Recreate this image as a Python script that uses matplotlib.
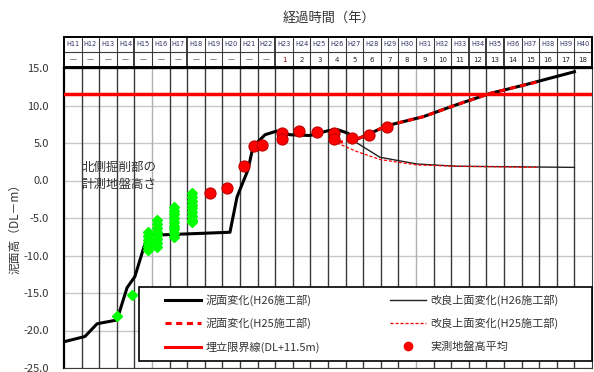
import numpy as np
import matplotlib.pyplot as plt
from matplotlib.lines import Line2D
from matplotlib.patches import Rectangle

plt.rcParams['font.family'] = ['Noto Sans CJK JP', 'DejaVu Sans']

# header rows: fiscal year and years elapsed since H23
years = [f'H{n}' for n in range(11, 41)]
elapsed = ['—'] * 12 + [str(i) for i in range(1, 19)]

# 泥面変化 (H26施工部)
mud_h26_x = [0, 1.19, 1.88, 3.01, 3.58, 4.03, 4.60, 5.0, 9.43, 9.60, 9.83, 10.45,
             10.74, 11.42, 12.10, 12.84, 13.98, 14.94, 15.51, 16.14, 16.53,
             17.33, 18.33, 20.4, 22.3, 24.2, 26.1, 29.0]
mud_h26_y = [-21.5, -20.8, -19.1, -18.6, -14.3, -12.8, -8.4, -7.3, -6.9, -4.9, -2.2, 1.4,
             4.5, 6.1, 6.6, 6.1, 6.0, 6.6, 6.8, 6.3, 5.4,
             6.2, 7.3, 8.5, 10.1, 11.6, 12.7, 14.5]

# 泥面変化 (H25施工部)
mud_h25_x = [15.5, 16.0, 16.53, 17.33, 18.33, 20.4, 22.3, 24.2, 26.1, 27.0]
mud_h25_y = [5.1, 5.2, 5.4, 6.2, 7.3, 8.5, 10.1, 11.6, 12.7, 13.2]

# 改良上面変化
imp_h26_x = [16.14, 16.65, 17.95, 20.06, 22.33, 29.0]
imp_h26_y = [6.3, 5.0, 3.1, 2.2, 1.9, 1.75]
imp_h25_x = [15.51, 16.65, 17.95, 20.06, 22.33, 26.9]
imp_h25_y = [5.0, 3.85, 2.8, 2.07, 1.9, 1.76]

fill_limit = 11.5

# 実測地盤高平均
meas_x = [8.3, 9.24, 10.25, 10.8, 11.27, 12.37, 12.37, 13.37, 14.4, 15.36, 15.36,
          16.35, 17.33, 18.33]
meas_y = [-1.7, -1.05, 1.9, 4.6, 4.8, 6.35, 5.6, 6.6, 6.5, 6.4, 5.5,
          5.7, 6.1, 7.2]

# 北側掘削部の計測地盤高さ
north_x = [3.01, 3.85,
           4.77, 4.77, 4.77, 4.77, 4.77, 4.77,
           5.28, 5.28, 5.28, 5.28, 5.28, 5.28, 5.28, 5.28,
           6.25, 6.25, 6.25, 6.25, 6.25, 6.25, 6.25, 6.25, 6.25,
           7.27, 7.27, 7.27, 7.27, 7.27, 7.27, 7.27, 7.27, 7.27]
north_y = [-18.1, -15.3,
           -6.9, -7.4, -7.9, -8.4, -8.9, -9.3,
           -5.3, -5.8, -6.3, -6.8, -7.3, -7.8, -8.3, -8.9,
           -3.5, -4.0, -4.5, -5.0, -5.5, -6.0, -6.5, -7.0, -7.5,
           -1.7, -2.2, -2.7, -3.2, -3.7, -4.2, -4.7, -5.2, -5.5]

W, H = 594, 372
fig = plt.figure(figsize=(W / 100, H / 100), dpi=100)
ax = fig.add_axes([64 / W, 4 / H, 528 / W, 300 / H])
hd = fig.add_axes([64 / W, 305 / H, 528 / W, 30 / H])

# grid
for v in np.arange(-25, 16, 5):
    ax.axhline(v, color='#c8c8c8', lw=1, zorder=0)
for i in range(1, 30):
    c = '#b0b0b0' if i in (5, 20) else '#3a3a3a'
    ax.axvline(i, color=c, lw=1, zorder=0)

ax.plot(mud_h26_x, mud_h26_y, color='black', lw=2.2, zorder=3)
ax.plot(imp_h26_x, imp_h26_y, color='#222222', lw=1.0, zorder=3)
ax.plot(mud_h25_x, mud_h25_y, color='red', lw=2.2, ls=(0, (2, 1.5)), zorder=4)
ax.plot(imp_h25_x, imp_h25_y, color='red', lw=0.9, ls=(0, (2.5, 1.5)), zorder=4)
ax.axhline(fill_limit, color='red', lw=2.5, zorder=3)
ax.plot(north_x, north_y, 'D', color='#00ff00', ms=5.5, mec='#00ff00', ls='none', zorder=5)
ax.plot(meas_x, meas_y, 'o', color='red', ms=8, mec='#c00000', mew=0.8, ls='none', zorder=6)

ax.text(1.0, 0.6, '北側掘削部の\n計測地盤高さ', fontsize=9, color='#333333',
        linespacing=1.45, va='center', ha='left', zorder=6)

ax.set_xlim(0, 30)
ax.set_ylim(-25, 15)
ax.set_xticks([])
ax.set_yticks(np.arange(-25, 16, 5))
ax.set_yticklabels([f'{v:.1f}' for v in np.arange(-25, 16, 5)])
ax.tick_params(axis='y', length=0, pad=11, labelsize=8, labelcolor='#333333')
ax.spines['left'].set_linewidth(1.6)
ax.spines['top'].set_linewidth(1.6)
ax.spines['right'].set_color('#3a3a3a')
ax.spines['bottom'].set_color('#3a3a3a')

fig.text(15 / W, 1 - 226 / H, '泥面高（DL－m）', rotation=90, fontsize=8.5,
         color='#333333', ha='center', va='center')
fig.text(329 / W, 1 - 18 / H, '経過時間（年）', fontsize=9.5, color='#333333',
         ha='center', va='center')

# header table
hd.set_xlim(0, 30)
hd.set_ylim(0, 2)
hd.set_xticks([])
hd.set_yticks([])
for s in hd.spines.values():
    s.set_linewidth(1.4)
hd.axhline(1, color='#3a3a3a', lw=0.8)
for i in range(1, 30):
    hd.axvline(i, color='#3a3a3a', lw=1.4 if i in (4, 7, 12, 23, 24, 25) else 0.8)
for i, (yr, el) in enumerate(zip(years, elapsed)):
    hd.text(i + 0.5, 1.5, yr, fontsize=4.8, color='#333366', ha='center', va='center',
            family='DejaVu Sans')
    hd.text(i + 0.5, 0.5, el, fontsize=5, color='#8b0000' if el == '1' else '#222222',
            ha='center', va='center', family='DejaVu Sans')

# legend box drawn separately so the entries can sit where wanted inside it
ax.add_patch(Rectangle((75 / 528, 7 / 300), 453 / 528, 74 / 300, transform=ax.transAxes,
                       facecolor='white', edgecolor='black', lw=1.2, zorder=9,
                       clip_on=False))

handles = [
    Line2D([], [], color='black', lw=2.2),
    Line2D([], [], color='red', lw=2.2, ls=(0, (2, 1.5))),
    Line2D([], [], color='red', lw=2.2),
    Line2D([], [], color='#222222', lw=1.0),
    Line2D([], [], color='red', lw=0.9, ls=(0, (2.5, 1.5))),
    Line2D([], [], color='red', marker='o', ms=6, ls='none'),
]
labels = ['泥面変化(H26施工部)', '泥面変化(H25施工部)', '埋立限界線(DL+11.5m)',
          '改良上面変化(H26施工部)', '改良上面変化(H25施工部)', '実測地盤高平均']
leg = ax.legend(handles, labels, ncol=2, loc='upper left',
                bbox_to_anchor=(101 / 528, 74 / 300), fontsize=8,
                handlelength=3.2, handletextpad=0.45, labelspacing=1.1,
                borderpad=0, columnspacing=6.3, frameon=False, borderaxespad=0)
for t in leg.get_texts():
    t.set_color('#333333')
leg.set_zorder(10)

fig.savefig('out.png', dpi=100)
